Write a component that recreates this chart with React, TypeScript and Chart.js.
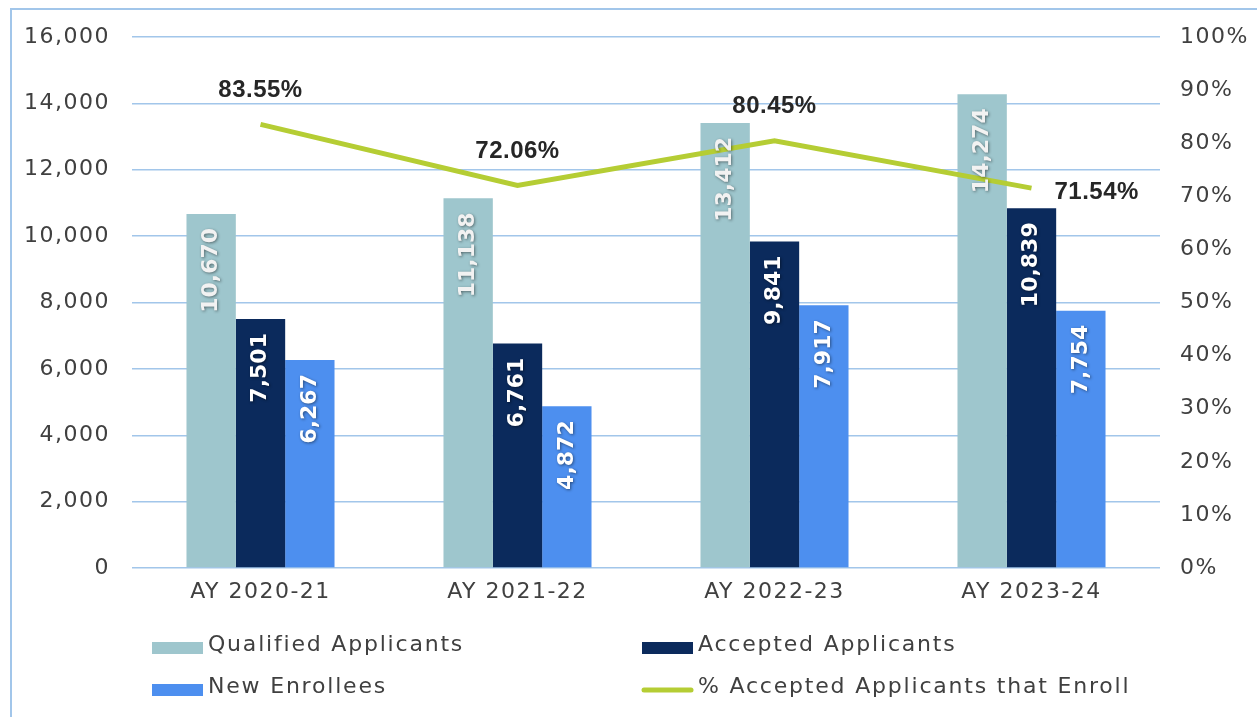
import React, { useEffect, useRef } from "react";
import { Chart, registerables } from "chart.js";

Chart.register(...registerables);

const categories = ["AY 2020-21", "AY 2021-22", "AY 2022-23", "AY 2023-24"];
const qualifiedApplicants = [10670, 11138, 13412, 14274];
const acceptedApplicants = [7501, 6761, 9841, 10839];
const newEnrollees = [6267, 4872, 7917, 7754];
const pctAcceptedEnroll = [0.8355, 0.7206, 0.8045, 0.7154];
const leftTicks = [0, 2000, 4000, 6000, 8000, 10000, 12000, 14000, 16000];
const rightTicks = [0, 0.1, 0.2, 0.3, 0.4, 0.5, 0.6, 0.7, 0.8, 0.9, 1.0];

const TICK_FONT = "'DejaVu Sans', sans-serif";
const TEXT_COLOR = "#404040";
const GRID_COLOR = "#A2C6EA";

const C_QUAL = "#9EC6CD";
const C_ACC = "#0B2A5C";
const C_NEW = "#4D8FEF";
const C_LINE = "#B5CD34";

const fmtNum = (v: number) => v.toLocaleString("en-US");
const fmtPct = (v: number) => (v * 100).toFixed(2) + "%";

const framePlugin = {
  id: "frame",
  beforeDraw(chart: any) {
    const ctx = chart.ctx;
    ctx.save();
    ctx.strokeStyle = GRID_COLOR;
    ctx.lineWidth = 2;
    ctx.beginPath();
    ctx.moveTo(11, chart.height + 2);
    ctx.lineTo(11, 9);
    ctx.lineTo(chart.width + 2, 9);
    ctx.stroke();
    ctx.restore();
    ctx.letterSpacing = "1.5px";
  },
};

const labelsPlugin = {
  id: "valueLabels",
  afterDatasetsDraw(chart: any) {
    const ctx = chart.ctx;
    ctx.save();
    ctx.letterSpacing = "0px";
    // bar labels
    [0, 1, 2].forEach((di) => {
      const meta = chart.getDatasetMeta(di);
      const ds = chart.data.datasets[di];
      meta.data.forEach((el: any, i: number) => {
        const v = ds.data[i];
        ctx.save();
        ctx.translate(el.x, el.y + 14);
        ctx.rotate(-Math.PI / 2);
        ctx.font = "bold 22px 'DejaVu Sans', sans-serif";
        ctx.textAlign = "right";
        ctx.textBaseline = "middle";
        ctx.shadowColor = "rgba(0,0,0,0.45)";
        ctx.shadowBlur = 3;
        ctx.shadowOffsetX = 1;
        ctx.shadowOffsetY = 1;
        ctx.fillStyle = di === 0 ? "#F2F2F2" : "#FFFFFF";
        ctx.fillText(fmtNum(v), 0, 0);
        ctx.restore();
      });
    });
    // line labels
    const lmeta = chart.getDatasetMeta(3);
    const lds = chart.data.datasets[3];
    lmeta.data.forEach((el: any, i: number) => {
      ctx.save();
      ctx.font = "bold 24px 'Liberation Sans', Arial, sans-serif";
      ctx.letterSpacing = "0.5px";
      ctx.fillStyle = "#262626";
      ctx.textBaseline = "middle";
      const last = i === lmeta.data.length - 1;
      if (last) {
        ctx.textAlign = "left";
        ctx.fillText(fmtPct(lds.data[i]), el.x + 23, el.y + 4);
      } else {
        ctx.textAlign = "center";
        ctx.fillText(fmtPct(lds.data[i]), el.x, el.y - 34);
      }
      ctx.restore();
    });
    ctx.restore();
  },
};

const legendPlugin = {
  id: "gridLegend",
  afterDraw(chart: any) {
    const ctx = chart.ctx;
    const ds = chart.data.datasets;
    const slots = [
      { x: 152, y: 645 },
      { x: 642, y: 645 },
      { x: 152, y: 687 },
      { x: 642, y: 687 },
    ];
    ctx.save();
    ctx.letterSpacing = "1.8px";
    ctx.font = "22px " + TICK_FONT;
    ctx.textBaseline = "middle";
    ctx.textAlign = "left";
    ds.forEach((d: any, i: number) => {
      const s = slots[i];
      if (d.type === "line") {
        ctx.strokeStyle = d.borderColor;
        ctx.lineWidth = 5;
        ctx.lineCap = "round";
        ctx.beginPath();
        ctx.moveTo(s.x + 2, s.y + 3);
        ctx.lineTo(s.x + 49, s.y + 3);
        ctx.stroke();
      } else {
        ctx.fillStyle = d.backgroundColor;
        ctx.fillRect(s.x, s.y - 3, 51, 12);
      }
      ctx.fillStyle = TEXT_COLOR;
      ctx.fillText(d.label, s.x + 56, s.y);
    });
    ctx.restore();
  },
};

export default function App() {
  const ref = useRef<HTMLCanvasElement | null>(null);
  useEffect(() => {
    if (!ref.current) return;
    const chart = new Chart(ref.current, {
      type: "bar",
      data: {
        labels: categories,
        datasets: [
          {
            type: "bar",
            label: "Qualified Applicants",
            data: qualifiedApplicants,
            backgroundColor: C_QUAL,
            yAxisID: "y",
            order: 1,
          },
          {
            type: "bar",
            label: "Accepted Applicants",
            data: acceptedApplicants,
            backgroundColor: C_ACC,
            yAxisID: "y",
            order: 1,
          },
          {
            type: "bar",
            label: "New Enrollees",
            data: newEnrollees,
            backgroundColor: C_NEW,
            yAxisID: "y",
            order: 1,
          },
          {
            type: "line",
            label: "% Accepted Applicants that Enroll",
            data: pctAcceptedEnroll,
            borderColor: C_LINE,
            backgroundColor: C_LINE,
            borderWidth: 5,
            pointRadius: 0,
            tension: 0,
            yAxisID: "y1",
            order: -1,
          },
        ] as any,
      },
      options: {
        responsive: false,
        animation: false,
        layout: { padding: { top: 37, left: 0, right: 0, bottom: 0 } },
        datasets: {
          bar: { barPercentage: 1, categoryPercentage: 0.576 },
        } as any,
        plugins: {
          legend: { display: false },
          tooltip: { enabled: false },
          title: { display: false },
        },
        scales: {
          x: {
            grid: { display: false, drawTicks: false },
            border: { display: false },
            ticks: {
              color: TEXT_COLOR,
              font: { family: TICK_FONT, size: 22 },
              padding: 11,
            },
            afterFit(scale: any) {
              scale.height = 149;
            },
          },
          y: {
            position: "left",
            min: 0,
            max: 16000,
            afterBuildTicks(scale: any) {
              scale.ticks = leftTicks.map((v) => ({ value: v }));
            },
            grid: { color: GRID_COLOR, lineWidth: 1.5, drawTicks: false },
            border: { display: false },
            ticks: {
              color: TEXT_COLOR,
              font: { family: TICK_FONT, size: 22 },
              padding: 22,
              callback: (v: any) => fmtNum(Number(v)),
            },
            afterFit(scale: any) {
              scale.width = 132;
            },
          },
          y1: {
            position: "right",
            min: 0,
            max: 1,
            afterBuildTicks(scale: any) {
              scale.ticks = rightTicks.map((v) => ({ value: v }));
            },
            grid: { display: false, drawTicks: false },
            border: { display: false },
            ticks: {
              color: TEXT_COLOR,
              font: { family: TICK_FONT, size: 22 },
              padding: 20,
              callback: (v: any) => Math.round(Number(v) * 100) + "%",
            },
            afterFit(scale: any) {
              scale.width = 97;
            },
          },
        },
      },
      plugins: [framePlugin, labelsPlugin, legendPlugin],
    });
    return () => chart.destroy();
  }, []);
  return (
    <div style={{ position: "fixed", left: 0, top: 0, width: 1257, height: 717, background: "#fff" }}>
      <canvas ref={ref} width={1257} height={717} style={{ display: "block" }} />
    </div>
  );
}
